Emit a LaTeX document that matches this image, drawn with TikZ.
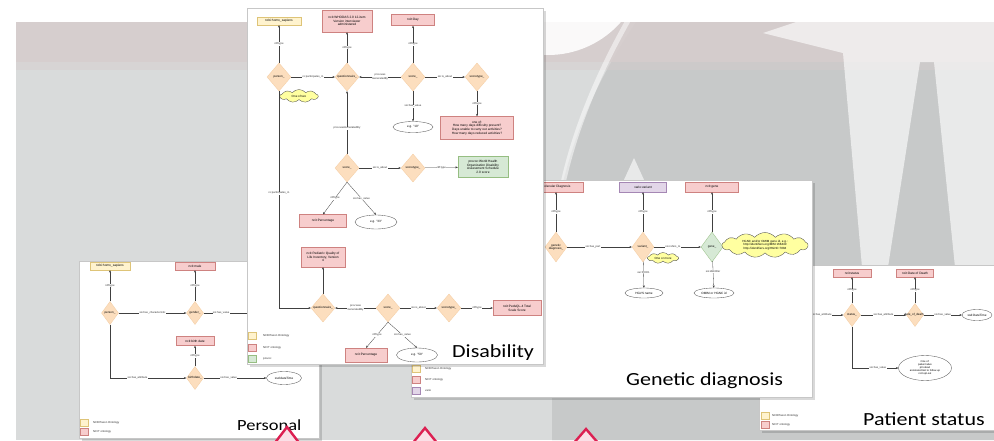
\documentclass[tikz,border=0pt]{standalone}
\usepackage{fontspec}
\setmainfont{Liberation Sans}
\newfontfamily\titlefont{Carlito}
\usetikzlibrary{shapes.geometric,shapes.symbols,arrows.meta}

% background tones
\definecolor{bgA}{RGB}{217,219,219}
\definecolor{bgB}{RGB}{199,201,201}
\definecolor{band}{RGB}{214,205,205}
% diagram palette
\definecolor{ylF}{RGB}{255,243,206}\definecolor{ylD}{RGB}{222,196,120}
\definecolor{pkF}{RGB}{247,205,205}\definecolor{pkD}{RGB}{206,130,128}
\definecolor{gnF}{RGB}{214,233,213}\definecolor{gnD}{RGB}{150,190,130}
\definecolor{lvF}{RGB}{226,214,232}\definecolor{lvD}{RGB}{165,135,180}
\definecolor{orF}{RGB}{252,222,190}\definecolor{orD}{RGB}{244,204,160}
\definecolor{clF}{RGB}{255,255,160}
\definecolor{caret}{RGB}{220,32,82}

\tikzset{
  panel/.style={fill=white, draw=black!22, line width=0.4pt},
  pshade/.style={fill=black, opacity=0.15},
  box/.style={rectangle, inner sep=0.5pt, align=center, line width=0.3pt,
    font=\fontsize{3.2}{3.7}\selectfont},
  ybox/.style={box, fill=ylF, draw=ylD},
  pbox/.style={box, fill=pkF, draw=pkD},
  gbox/.style={box, fill=gnF, draw=gnD},
  lbox/.style={box, fill=lvF, draw=lvD},
  dtxt/.style={font=\fontsize{3}{3.4}\selectfont, align=center, inner sep=0pt},
  dia/.style={diamond, fill=orF, draw=orD, line width=0.3pt, inner sep=0pt,
    minimum width=24pt, minimum height=28pt, label={[dtxt]center:#1}},
  sdia/.style={dia=#1, minimum width=17pt, minimum height=23pt},
  gdia/.style={dia=#1, fill=gnF, draw=gnD, minimum width=22pt, minimum height=30pt},
  ell/.style={ellipse, draw=black!65, fill=white, line width=0.35pt, inner sep=0pt,
    align=center, font=\fontsize{3.1}{3.5}\selectfont},
  cld/.style={cloud, cloud puffs=9, cloud puff arc=100, cloud ignores aspect, fill=clF, draw=black!70,
    line width=0.35pt, inner sep=0pt, label={[dtxt]center:#1}},
  arr/.style={draw=black!75, line width=0.3pt, -{Stealth[length=2.4pt,width=2pt]}},
  elab/.style={font=\fontsize{2.7}{3.1}\selectfont, fill=white, inner sep=0.3pt,
    align=center, text=black!80},
  legsq/.style={rectangle, minimum width=8pt, minimum height=7pt, inner sep=0pt, line width=0.25pt},
  legt/.style={font=\fontsize{2.8}{3.2}\selectfont, anchor=west, inner sep=0pt, text=black!80},
  ttl/.style={font=\titlefont\fontsize{18.5}{20}\selectfont, inner sep=0pt, anchor=base west},
  caretline/.style={draw=caret, line width=2.4pt, fill=caret!14, line join=miter}
}

\begin{document}
\begin{tikzpicture}[x={(1pt,0)}, y={(0,-1pt)}]
\useasboundingbox (0,0) rectangle (994,440);

% ---------- backdrop ----------
\fill[white] (0,0) rectangle (994,440);
\fill[bgA] (16,22) rectangle (994,440);
\fill[bgB] (636,22) .. controls (590,90) and (556,170) .. (552,260) -- (552,440) -- (994,440) -- (994,22) -- cycle;
\fill[band, opacity=0.9] (16,22) rectangle (994,62);
\fill[band, opacity=0.45] (16,62) rectangle (994,70);
\fill[white, opacity=0.88] (548,-42) circle[radius=97pt];
\draw[white, opacity=0.5, line width=5pt] (640,0) .. controls (592,80) and (558,165) .. (554,250);
\fill[white, opacity=0.62] (763,33) -- (850,4) -- (994,0) -- (994,267) -- (955,267) -- (934,62)
  -- (920,62) -- (888,267) -- (862,267) -- (843,53) -- cycle;
\fill[white, opacity=0.6] (623,182) -- (634,158) -- (645,182) -- cycle;

% ---------- Patient status ----------
\fill[pshade] (761.5,267.5) rectangle (1000,433);
\draw[panel] (759,265) rectangle (1000,430);
\begin{scope}
\clip (759,265) rectangle (1000,430);
\node[pbox, minimum width=38pt, minimum height=8pt] (psStat) at (852,273) {ncit:status};
\node[pbox, minimum width=37pt, minimum height=8pt] (psDod) at (915,273) {ncit:Date of Death};
\node[sdia=status\_] (psS) at (852,315) {};
\node[sdia=date\_of\_death\_] (psD) at (915,315) {};
\node[ell, minimum width=30pt, minimum height=11pt] (psE1) at (977,315) {xsd:DateTime};
\node[ell, minimum width=53pt, minimum height=25pt, font=\fontsize{2.6}{2.9}\selectfont] (psE2) at (925,368)
  {One of:\\patient:alive\\ptn:dead\\annotated:lost to follow up\\ncit:opt-out};
\coordinate (psIn) at (795,315);
\draw[arr] (psIn) -- node[elab, pos=0.55]{sio:has\_attribute} (psS);
\draw[arr] (psS) -- node[elab]{rdf:type} (psStat);
\draw[arr] (psD) -- node[elab]{rdf:type} (psDod);
\draw[arr] (psS) -- node[elab]{sio:has\_attribute} (psD);
\draw[arr] (psD) -- node[elab]{sio:has\_value} (psE1);
\draw[arr] (psS.south) |- node[elab, pos=0.78]{sio:has\_value} (psE2.west);
\node[legsq, fill=ylF, draw=ylD] (psL1) at (765,416) {};
\node[legt] at (772,416) {NCBITaxon Ontology};
\node[legsq, fill=pkF, draw=pkD] (psL2) at (765,425) {};
\node[legt] at (772,425) {NCIT ontology};
\node[ttl] (tPat) at (863,425) {\scalebox{1.19}[1]{Patient status}};
\end{scope}

% ---------- Personal ----------
\fill[pshade] (81.5,263.5) rectangle (322,441);
\draw[panel] (79,261) rectangle (319,438);
\begin{scope}
\clip (79,261) rectangle (319,438);
\node[ybox, minimum width=40pt, minimum height=8pt] (pHomo) at (110,266) {ncbi:homo\_sapiens};
\node[pbox, minimum width=40pt, minimum height=8pt] (pSex) at (195,266) {ncit:male};
\node[sdia=person\_] (pPerson) at (110,313) {};
\node[sdia=gender\_] (pGender) at (195,313) {};
\node[pbox, minimum width=38pt, minimum height=9pt] (pBirth) at (195,341) {ncit:birth date};
\node[sdia=birthdate\_] (pBd) at (195,378) {};
\node[ell, minimum width=35pt, minimum height=13pt] (pEll) at (284,378) {xsd:dateTime};
\coordinate (pOut) at (262,313);
\draw[arr] (pPerson) -- node[elab]{rdf:type} (pHomo);
\draw[arr] (pGender) -- node[elab]{rdf:type} (pSex);
\draw[arr] (pPerson) -- node[elab]{sio:has\_characteristic} (pGender);
\draw[arr] (pGender) -- node[elab, pos=0.3]{sio:has\_value} (pOut);
\draw[arr] (pBd) -- node[elab]{rdf:type} (pBirth);
\draw[arr] (pPerson.south) |- node[elab, pos=0.68]{sio:has\_attribute} (pBd.west);
\draw[arr] (pBd) -- node[elab, pos=0.4]{sio:has\_value} (pEll);
\node[legsq, fill=ylF, draw=ylD] (pL1) at (84,423) {};
\node[legt] at (93,423) {NCBITaxon Ontology};
\node[legsq, fill=pkF, draw=pkD] (pL2) at (84,432) {};
\node[legt] at (93,432) {NCIT ontology};
\node[ttl, font=\titlefont\fontsize{15.5}{17}\selectfont] (tPer) at (237,430) {\scalebox{1.19}[1]{Personal}};
\end{scope}

% ---------- Genetic diagnosis ----------
\fill[pshade] (413.5,182.5) rectangle (815,400);
\draw[panel] (411,180) rectangle (812,397);
\begin{scope}
\clip (411,180) rectangle (812,397);
\node[pbox, minimum width=54pt, minimum height=10pt] (gDiag) at (556,187) {Molecular Diagnosis};
\node[lbox, minimum width=47pt, minimum height=10pt] (gVarT) at (643,187) {vario:variant};
\node[pbox, minimum width=53pt, minimum height=10pt] (gGeneT) at (712,187) {ncit:gene};
\node[dia={genetic\\diagnosis\_}, minimum width=22pt, minimum height=30pt] (gGd) at (556,247) {};
\node[dia=variant\_, minimum width=22pt, minimum height=30pt] (gVar) at (643,247) {};
\node[gdia=gene\_] (gGene) at (712,247) {};
\node[cld={HGNC and/or OMIM gene id, e.g.:\\http://identifiers.org/MIM:168440\\http://identifiers.org/HGNC:7884},
  cloud puffs=13, minimum width=86pt, minimum height=25pt] (gCloud) at (765,245) {};
\node[cld={One or more}, minimum width=31pt, minimum height=11pt] (gVCloud) at (663,258) {};
\node[ell, minimum width=38pt, minimum height=10pt] (gE1) at (644,293) {HGVS name};
\node[ell, minimum width=40pt, minimum height=10pt] (gE2) at (714,293) {OMIM or HGNC id};
\draw[arr] (gGd) -- node[elab]{rdf:type} (gDiag);
\draw[arr] (gVar) -- node[elab]{rdf:type} (gVarT);
\draw[arr] (gGene) -- node[elab]{rdf:type} (gGeneT);
\draw[arr] (gGd) -- node[elab, pos=0.4]{sio:has\_part} (gVar);
\draw[arr] (gVar) -- node[elab, pos=0.4]{sio:refers\_to} (gGene);
\draw[arr] (gVar) -- node[elab, pos=0.4]{var:P0001} (gE1);
\draw[arr] (gGene) -- node[elab, pos=0.4]{sio:identifier} (gE2);
\node[legsq, fill=ylF, draw=ylD] (gL1) at (416,368.5) {};
\node[legt] at (425,368.5) {NCBITaxon Ontology};
\node[legsq, fill=pkF, draw=pkD] (gL2) at (416,379.5) {};
\node[legt] at (425,379.5) {NCIT ontology};
\node[legsq, fill=lvF, draw=lvD] (gL3) at (416,390.5) {};
\node[legt] at (425,390.5) {vario};
\node[ttl] (tGen) at (626,385) {\scalebox{1.19}[1]{Genetic diagnosis}};
\end{scope}

% ---------- Disability ----------
\fill[pshade] (249.5,10.5) rectangle (546,367);
\draw[panel] (247,8) rectangle (543,364);
\begin{scope}
\clip (247,8) rectangle (543,364);
\node[ybox, minimum width=44pt, minimum height=8pt] (dHomo) at (279,21) {ncbi:homo\_sapiens};
\node[pbox, minimum width=50pt, minimum height=22pt] (dWho) at (347,21)
  {ncit:WHODAS 2.0 12-item\\Version interviewer\\administered};
\node[pbox, minimum width=43pt, minimum height=11pt] (dDay) at (413,20) {ncit:Day};
\node[dia=person\_] (dPerson) at (279,77) {};
\node[dia=questionnaire\_] (dQ1) at (347,77) {};
\node[dia=score\_] (dS1) at (413,77) {};
\node[dia=scoretype\_] (dT1) at (477,77) {};
\node[cld={One of two}, minimum width=38pt, minimum height=13pt] (dCloud) at (299,96) {};
\node[ell, minimum width=40pt, minimum height=11pt] (dE1) at (413,127) {e.g. "10"};
\node[pbox, minimum width=73pt, minimum height=23pt] (dOne) at (477,128)
  {one of:\\How many days difficulty present?\\Days unable to carry out activities?\\How many days reduced activities?};
\node[dia=score\_] (dS2) at (347,168) {};
\node[dia=scoretype\_] (dT2) at (413,168) {};
\node[gbox, minimum width=50pt, minimum height=21pt] (dGreen) at (483,167)
  {provoc:World Health\\Organization Disability\\Assessment Schedule\\2.0 score};
\node[pbox, minimum width=47pt, minimum height=13pt] (dPct1) at (323,221) {ncit:Percentage};
\node[ell, minimum width=42pt, minimum height=14pt] (dE2) at (376,222) {e.g. "33"};
\node[pbox, minimum width=44pt, minimum height=20pt] (dPeds) at (323,257)
  {ncit:Pediatric Quality of\\Life Inventory, Version\\4};
\node[dia=questionnaire\_] (dQ2) at (323,308) {};
\node[dia=score\_] (dS3) at (388,308) {};
\node[dia=scoretype\_] (dT3) at (449,308) {};
\node[pbox, minimum width=48pt, minimum height=15pt] (dTot) at (517,308) {ncit:PedsQL-4 Total\\Scale Score};
\node[pbox, minimum width=42pt, minimum height=14pt] (dPct2) at (366,355) {ncit:Percentage};
\node[ell, minimum width=41pt, minimum height=14pt] (dE3) at (417,355) {e.g. "50"};

\draw[arr] (dPerson) -- node[elab]{rdf:type} (dHomo);
\draw[arr] (dQ1) -- node[elab]{rdf:type} (dWho);
\draw[arr] (dS1) -- node[elab]{rdf:type} (dDay);
\draw[arr] (dPerson) -- node[elab]{ro:participates\_in} (dQ1);
\draw[arr] (dS1) -- node[elab]{prov:was\\GeneratedBy} (dQ1);
\draw[arr] (dS1) -- node[elab]{sio:is\_about} (dT1);
\draw[arr] (dT1) -- node[elab]{rdf:type} (dOne);
\draw[arr] (dS1) -- node[elab]{sio:has\_value} (dE1);
\draw[arr] (dS2) -- node[elab, pos=0.41]{prov:wasGeneratedBy} (dQ1);
\draw[arr] (dS2) -- node[elab]{sio:is\_about} (dT2);
\draw[arr] (dT2) -- node[elab]{rdf:type} (dGreen);
\draw[arr] (dS2.south) -- node[elab, pos=0.5]{rdf:type} (dPct1.north);
\draw[arr] (dS2.south) -- node[elab, pos=0.5]{sio:has\_value} (dE2.north);
\draw[arr] (dPerson.south) |- node[elab, pos=0.235]{ro:participates\_in} (dQ2.west);
\draw[arr] (dQ2) -- (dPeds);
\draw[arr] (dS3) -- node[elab]{prov:was\\GeneratedBy} (dQ2);
\draw[arr] (dS3) -- node[elab]{sio:is\_about} (dT3);
\draw[arr] (dT3) -- node[elab]{rdf:type} (dTot);
\draw[arr] (dS3.south) -- node[elab, pos=0.5]{rdf:type} (dPct2.north);
\draw[arr] (dS3.south) -- node[elab, pos=0.5]{sio:has\_value} (dE3.north);

\node[legsq, fill=ylF, draw=ylD] (dL1) at (252.5,336) {};
\node[legt] at (263,336) {NCBITaxon Ontology};
\node[legsq, fill=pkF, draw=pkD] (dL2) at (252.5,347.5) {};
\node[legt] at (263,347.5) {NCIT ontology};
\node[legsq, fill=gnF, draw=gnD] (dL3) at (252.5,359) {};
\node[legt] at (263,359) {provoc};
\node[ttl] (tDis) at (452,357) {\scalebox{1.19}[1]{Disability}};
\end{scope}

% ---------- pointer carets along the lower edge ----------
\draw[caretline] (274,444) -- (287,427) -- (300,444);
\draw[caretline] (412,444) -- (425,428) -- (438,444);
\draw[caretline] (573,444) -- (586,429) -- (599,444);
\end{tikzpicture}
\end{document}
